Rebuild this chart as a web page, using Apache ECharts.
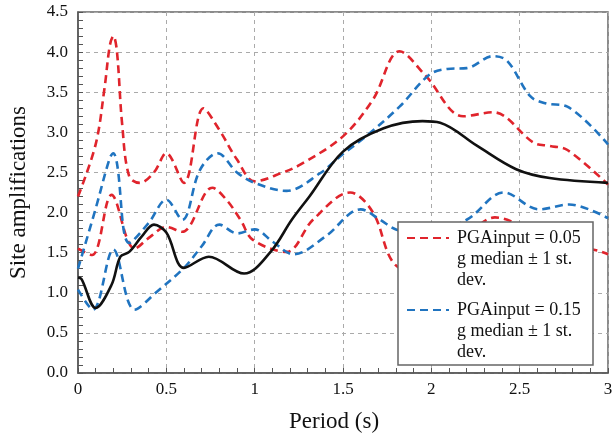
<!DOCTYPE html>
<html>
<head>
<meta charset="utf-8">
<script src="https://cdn.jsdelivr.net/npm/echarts@6/dist/echarts.min.js"></script>
<style>
  html, body { margin: 0; padding: 0; background: #fff; }
  #chart { width: 615px; height: 436px; }
</style>
</head>
<body>
<div id="chart"></div>
<script>
const FONT = "Liberation Serif"

const label05 = "PGAinput = 0.05 g median ± 1 st. dev."
const label15 = "PGAinput = 0.15 g median ± 1 st. dev."

// median (black)
const medianPeriods = [0, 0.02, 0.1, 0.19, 0.24, 0.29, 0.36, 0.43, 0.5, 0.6, 0.74, 0.94, 1.09, 1.21, 1.31, 1.5, 1.73, 1.95, 2.05, 2.26, 2.48, 2.67, 3.0]
const medianValues = [1.19, 1.17, 0.81, 1.1, 1.45, 1.51, 1.7, 1.85, 1.75, 1.31, 1.45, 1.24, 1.51, 1.91, 2.2, 2.76, 3.05, 3.14, 3.12, 2.83, 2.54, 2.43, 2.37]

// PGA 0.05, +1 st. dev.
const red05UpperPeriods = [0, 0.1, 0.15, 0.18, 0.2, 0.22, 0.25, 0.29, 0.35, 0.43, 0.5, 0.6, 0.71, 0.8, 0.9, 1.0, 1.16, 1.26, 1.5, 1.67, 1.82, 1.97, 2.18, 2.35, 2.58, 2.67, 2.77, 3.0]
const red05UpperValues = [2.2, 2.85, 3.55, 4.08, 4.2, 4.02, 3.1, 2.45, 2.37, 2.5, 2.74, 2.37, 3.3, 3.03, 2.66, 2.39, 2.5, 2.6, 2.95, 3.41, 4.01, 3.7, 3.2, 3.25, 2.87, 2.83, 2.78, 2.35]

// PGA 0.05, -1 st. dev.
const red05LowerPeriods = [0, 0.08, 0.19, 0.32, 0.41, 0.5, 0.59, 0.76, 0.84, 0.92, 0.99, 1.18, 1.33, 1.54, 1.67, 1.78, 1.9, 2.05, 2.2, 2.36, 2.5, 2.65, 2.8, 2.95, 3.0]
const red05LowerValues = [1.55, 1.47, 2.22, 1.55, 1.7, 1.82, 1.76, 2.31, 2.16, 1.91, 1.66, 1.51, 1.91, 2.25, 2.0, 1.39, 1.25, 1.4, 1.7, 1.94, 1.85, 1.7, 1.6, 1.52, 1.48]

// PGA 0.15, +1 st. dev.
const blue15UpperPeriods = [0, 0.1, 0.18, 0.2, 0.22, 0.29, 0.4, 0.5, 0.59, 0.69, 0.79, 0.9, 1.0, 1.18, 1.37, 1.5, 1.63, 1.82, 1.99, 2.09, 2.2, 2.35, 2.43, 2.56, 2.65, 2.77, 3.0]
const blue15UpperValues = [1.3, 2.05, 2.68, 2.74, 2.62, 1.62, 1.87, 2.16, 1.91, 2.53, 2.74, 2.5, 2.37, 2.27, 2.49, 2.73, 2.95, 3.32, 3.72, 3.79, 3.8, 3.95, 3.89, 3.45, 3.36, 3.32, 2.85]

// PGA 0.15, -1 st. dev.
const blue15LowerPeriods = [0, 0.085, 0.2, 0.32, 0.45, 0.6, 0.7, 0.8, 0.9, 1.0, 1.1, 1.22, 1.4, 1.6, 1.71, 1.8, 1.95, 2.2, 2.41, 2.61, 2.78, 3.0]
const blue15LowerValues = [1.04, 0.79, 1.54, 0.79, 1.02, 1.31, 1.58, 1.85, 1.74, 1.79, 1.64, 1.48, 1.7, 2.04, 1.91, 1.79, 1.72, 1.91, 2.25, 2.04, 2.1, 1.93]

const xTicks = [0, 0.5, 1, 1.5, 2, 2.5, 3]
const yTicks = [0, 0.5, 1, 1.5, 2, 2.5, 3, 3.5, 4, 4.5]

const RED = "#e0242c"
const BLUE = "#2074c0"

function pairs(xs, ys) {
  return xs.map((x, i) => [x, ys[i]])
}

function curve(name, xs, ys, color, dashed) {
  return {
    name: name,
    type: "line",
    data: pairs(xs, ys),
    smooth: 0.35,
    showSymbol: false,
    symbol: "none",
    lineStyle: { color: color, width: 2.6, type: dashed ? [8, 5] : "solid" },
    itemStyle: { color: color },
    z: dashed ? 2 : 3
  }
}

// two blank lines first so the first text line sits level with the dashed icon
function legendBox(name, top) {
  return {
    show: true,
    data: [name],
    orient: "vertical",
    left: 406,
    top: top,
    padding: 0,
    itemWidth: 42,
    itemHeight: 10,
    itemGap: 0,
    selectedMode: false,
    itemStyle: { opacity: 0 },
    formatter: (n) => {
      const parts = n.split(" g median")
      return "\n\n" + parts[0] + "\ng median" + parts[1].replace(" dev.", "\ndev.")
    },
    textStyle: {
      fontFamily: FONT,
      fontSize: 18,
      color: "#111",
      lineHeight: 21,
      padding: [0, 0, 0, 3]
    },
    z: 5
  }
}

const chart = echarts.init(document.getElementById("chart"), null, { renderer: "canvas" })

chart.setOption({
  animation: false,
  backgroundColor: "#fff",
  textStyle: { fontFamily: FONT },
  grid: {
    left: 78, right: 7, top: 12, bottom: 63,
    outerBoundsMode: "none",
    containLabel: false,
    show: true,
    borderColor: "#666",
    borderWidth: 1.5,
    backgroundColor: "transparent"
  },
  xAxis: {
    type: "value",
    min: xTicks[0],
    max: xTicks[xTicks.length - 1],
    interval: 0.5,
    name: "Period (s)",
    nameLocation: "middle",
    nameGap: 37,
    nameTextStyle: { fontFamily: FONT, fontSize: 23, color: "#111", padding: [0, 18, 0, 0] },
    axisLine: { lineStyle: { color: "#555", width: 1.5 } },
    axisTick: { inside: true, length: 5, lineStyle: { color: "#555" } },
    minorTick: { show: true, splitNumber: 5, length: 5, lineStyle: { color: "#555" } },
    axisLabel: { fontFamily: FONT, fontSize: 17, color: "#111", margin: 8, formatter: (v) => String(v) },
    splitLine: { show: true, lineStyle: { color: "#aaa", type: [4, 4], width: 1 } }
  },
  yAxis: {
    type: "value",
    min: yTicks[0],
    max: yTicks[yTicks.length - 1],
    interval: 0.5,
    name: "Site amplifications",
    nameLocation: "middle",
    nameGap: 48,
    nameTextStyle: { fontFamily: FONT, fontSize: 23, color: "#111" },
    axisLine: { show: true, lineStyle: { color: "#555", width: 1.5 } },
    axisTick: { show: true, inside: true, length: 5, lineStyle: { color: "#555" } },
    minorTick: { show: true, splitNumber: 5, length: 5, lineStyle: { color: "#555" } },
    axisLabel: { fontFamily: FONT, fontSize: 17, color: "#111", margin: 10, formatter: (v) => v.toFixed(1) },
    splitLine: { show: true, lineStyle: { color: "#aaa", type: [4, 4], width: 1 } }
  },
  legend: [legendBox(label05, 185.5), legendBox(label15, 257.5)],
  graphic: [{
    type: "rect",
    shape: { x: 398, y: 222, width: 195, height: 143 },
    style: { fill: "#fff", stroke: "#666", lineWidth: 1.5 },
    z: 4
  }],
  series: [
    curve(label05, red05UpperPeriods, red05UpperValues, RED, true),
    curve(label05, red05LowerPeriods, red05LowerValues, RED, true),
    curve(label15, blue15UpperPeriods, blue15UpperValues, BLUE, true),
    curve(label15, blue15LowerPeriods, blue15LowerValues, BLUE, true),
    curve("Median", medianPeriods, medianValues, "#111", false)
  ]
})
</script>
</body>
</html>
